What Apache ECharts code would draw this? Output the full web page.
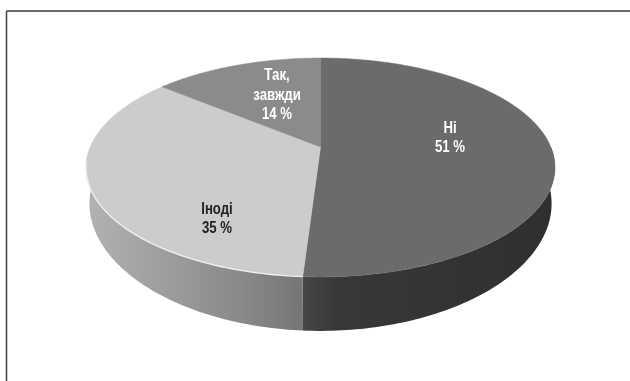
<!DOCTYPE html>
<html>
<head>
<meta charset="utf-8">
<style>html,body{margin:0;padding:0;background:#fff}#chart{width:630px;height:381px}</style>
<script src="https://cdn.jsdelivr.net/npm/echarts@6/dist/echarts.min.js"></script>
</head>
<body>
<div id="chart"></div>
<script>
// Survey answers, percent of respondents, clockwise from twelve o'clock.
const categories = ['Ні', 'Іноді', 'Так,\nзавжди'];
const shares = [51, 35, 14];

// Styling per slice.
const faceColors = ['#6b6b6e', '#cbcccE', '#8b8b8e'];
const labelColors = ['#ffffff', '#222222', '#ffffff'];
const labelAnchors = [[450, 138], [217, 219], [277, 95]];
const wallStops = [
  [[0, '#464648'], [0.13, '#383839'], [1, '#2f2f2f']],
  [[0, '#b2b2b5'], [0.3, '#a0a0a3'], [0.7, '#8a8a8c'], [1, '#757577']],
  [[0, '#777777'], [1, '#777777']]
];
const wallSpans = [[304, 552], [88, 304], [0, 1]];

// Perspective projection of the disc: far side is foreshortened.
const CX = 320.5, CY = 147, TILT = 0.187;
const TOP_A = 230.3, BOTTOM_A = 227, DEPTH_B = 105.6;
const NEAR_WALL = 54, NEAR_W = 1 - TILT, WALL_POWER = 2.35;
function project(a, deg, withWall) {
  const t = deg * Math.PI / 180, u = Math.sin(t), v = Math.cos(t), w = 1 + TILT * v;
  const drop = withWall ? NEAR_WALL * Math.pow(NEAR_W / w, WALL_POWER) : 0;
  return [CX + a * u / w, CY - DEPTH_B * v / w + drop];
}
function arc(a, from, to, withWall) {
  const pts = [], n = Math.max(2, Math.ceil(Math.abs(to - from)));
  for (let i = 0; i <= n; i++) pts.push(project(a, from + (to - from) * i / n, withWall));
  return pts;
}
const total = shares.reduce((s, x) => s + x, 0);
function sliceAngles(i) {
  let before = 0;
  for (let k = 0; k < i; k++) before += shares[k];
  return [before / total * 360, (before + shares[i]) / total * 360];
}

function renderWall(params, api) {
  const i = params.dataIndex;
  const [a0, a1] = sliceAngles(i);
  const from = Math.max(a0, 90), to = Math.min(a1, 270);
  if (to <= from) return null;
  const points = arc(TOP_A, from, to, false).concat(arc(BOTTOM_A, to, from, true));
  const span = wallSpans[i];
  return {
    type: 'polygon',
    shape: { points },
    style: {
      fill: new echarts.graphic.LinearGradient(span[0], 0, span[1], 0,
        wallStops[i].map(s => ({ offset: s[0], color: s[1] })), true),
      stroke: null
    }
  };
}

function renderFace(params, api) {
  const i = params.dataIndex;
  const [a0, a1] = sliceAngles(i);
  const apex = [CX, CY];
  const children = [{
    type: 'polygon',
    shape: { points: [apex].concat(arc(TOP_A, a0, a1, false)) },
    style: { fill: faceColors[i], stroke: faceColors[i], lineWidth: 0.5 }
  }];
  // Thin bright bevel where the lit slice meets its wall.
  if (i === 1) {
    children.push({
      type: 'polyline',
      shape: { points: arc(TOP_A, a0, 262, false) },
      style: { fill: null, stroke: '#eeeef0', lineWidth: 1.4 }
    });
  }
  children.push({
    type: 'text',
    x: labelAnchors[i][0],
    y: labelAnchors[i][1],
    scaleX: 0.8,
    style: {
      x: 0, y: 0,
      text: categories[i] + '\n' + api.value(0) + ' %',
      fill: labelColors[i],
      font: 'bold 16.5px "Liberation Sans", sans-serif',
      lineHeight: 19.5, align: 'center', verticalAlign: 'middle'
    },
    z2: 10
  });
  return { type: 'group', children };
}

const chart = echarts.init(document.getElementById('chart'), null, { renderer: 'canvas' });
chart.setOption({
  animation: false,
  backgroundColor: '#ffffff',
  graphic: [
    { type: 'line', shape: { x1: 6.5, y1: 11, x2: 630, y2: 11 }, style: { stroke: '#3a3a3a', lineWidth: 1.6 } },
    { type: 'line', shape: { x1: 6.5, y1: 11, x2: 6.5, y2: 381 }, style: { stroke: '#4a4a4a', lineWidth: 1.6 } }
  ],
  series: [
    { type: 'custom', coordinateSystem: 'none', z: 1, data: shares.map(v => [v]), renderItem: renderWall, silent: true },
    { type: 'custom', coordinateSystem: 'none', z: 2, data: shares.map(v => [v]), renderItem: renderFace, silent: true }
  ]
});
</script>
</body>
</html>
